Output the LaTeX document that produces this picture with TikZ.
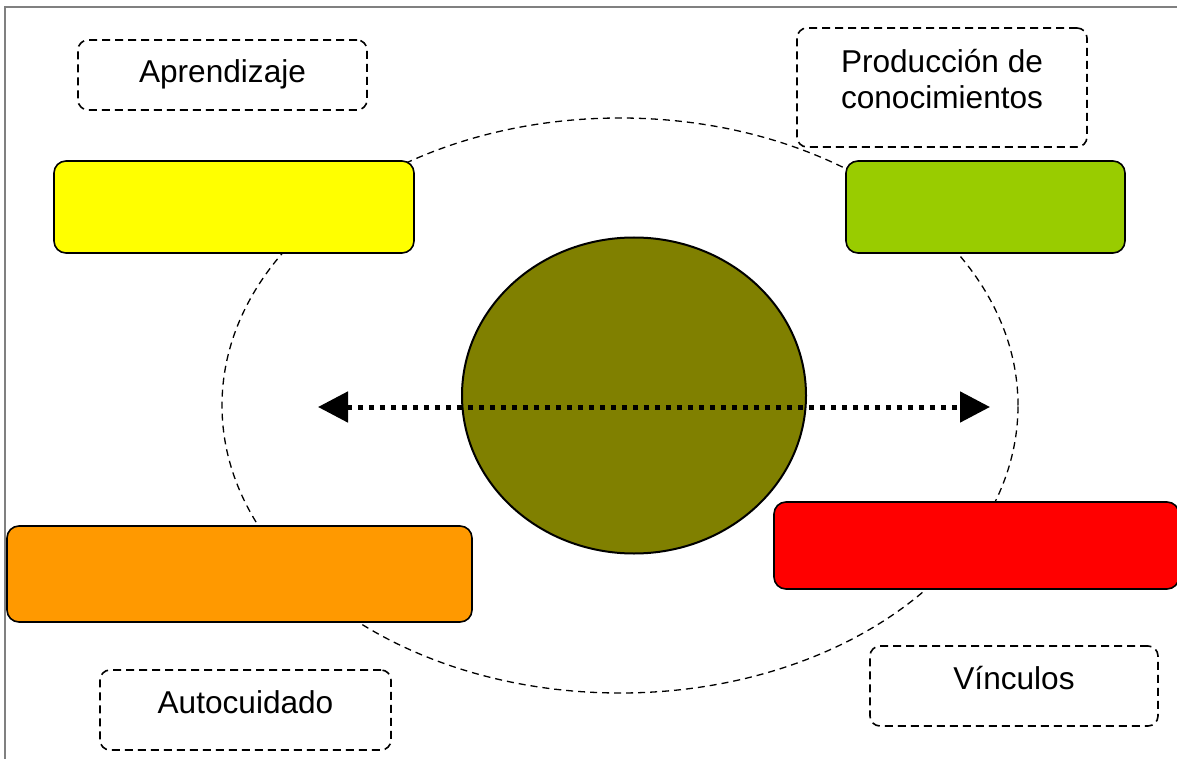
\documentclass[tikz,border=0pt]{standalone}
\usepackage{fontspec}
\setmainfont{Liberation Sans}
\usetikzlibrary{shapes.geometric,arrows.meta,positioning,calc}
\definecolor{boxYellow}{HTML}{FFFF00}
\definecolor{boxGreen}{HTML}{99CC00}
\definecolor{boxOrange}{HTML}{FF9900}
\definecolor{boxRed}{HTML}{FF0000}
\definecolor{coreOlive}{HTML}{808000}
\tikzset{
  >={Triangle[length=15pt,width=15pt]},
  colorBox/.style={rectangle,draw,line width=0.8pt,rounded corners=6pt,inner sep=0pt},
  tagBox/.style={rectangle,draw,dash pattern=on 4pt off 2.5pt,line width=0.8pt,rounded corners=5pt,
    fill=white,inner sep=0pt,align=center,font=\fontsize{15.8}{18}\selectfont,
    text height=11.85pt,text depth=3.95pt},
  orbit/.style={ellipse,draw,dash pattern=on 3.5pt off 2.5pt,line width=0.65pt,inner sep=0pt},
  core/.style={ellipse,draw,line width=1pt,fill=coreOlive,inner sep=0pt},
  dottedLink/.style={<->,line width=2.5pt,dash pattern=on 2.5pt off 3pt},
  frameLine/.style={draw=gray,line width=1pt},
}
\begin{document}
\begin{tikzpicture}[x=0.5pt,y=-0.5pt]
\useasboundingbox (0,0) rectangle (1177,759);

% ===== Page frame =====
\draw[frameLine] (5,759) -- (5,7) -- (1177,7);

% ===== Dashed orbit =====
\node[orbit, minimum width=398pt, minimum height=287.5pt] (orbit) at (620,405.5) {};

% ===== Coloured boxes =====
\node[colorBox, fill=boxYellow, minimum width=180pt, minimum height=46pt] (yellowBox) at (234,207) {};
\node[colorBox, fill=boxGreen, minimum width=139.5pt, minimum height=46pt] (greenBox) at (985.5,207) {};
\node[colorBox, fill=boxOrange, minimum width=232.5pt, minimum height=48pt] (orangeBox) at (239.5,574) {};
\node[colorBox, fill=boxRed, minimum width=202.5pt, minimum height=43.5pt] (redBox) at (976.5,545.5) {};

% ===== Central circle =====
\node[core, minimum width=172pt, minimum height=158pt] (core) at (634,395.5) {};

% ===== Double arrow =====
\coordinate (arrowLeft) at (318,407);
\coordinate (arrowRight) at (990,407);
\draw[dottedLink] (arrowLeft) -- (arrowRight);

% ===== Labels =====
\node[tagBox, minimum width=144.5pt, minimum height=35pt] (tagLearn) at (222.5,75) {Aprendizaje};
\node[tagBox, minimum width=145pt, minimum height=59.5pt, text height=20.8pt, text depth=0pt] (tagKnow) at (942,87.5) {Producción de\\conocimientos};
\node[tagBox, minimum width=145.5pt, minimum height=40pt, text depth=8.85pt] (tagCare) at (245.5,710) {Autocuidado};
\node[tagBox, minimum width=144pt, minimum height=40pt, text depth=7.9pt] (tagLinks) at (1014,686) {Vínculos};

\end{tikzpicture}
\end{document}
